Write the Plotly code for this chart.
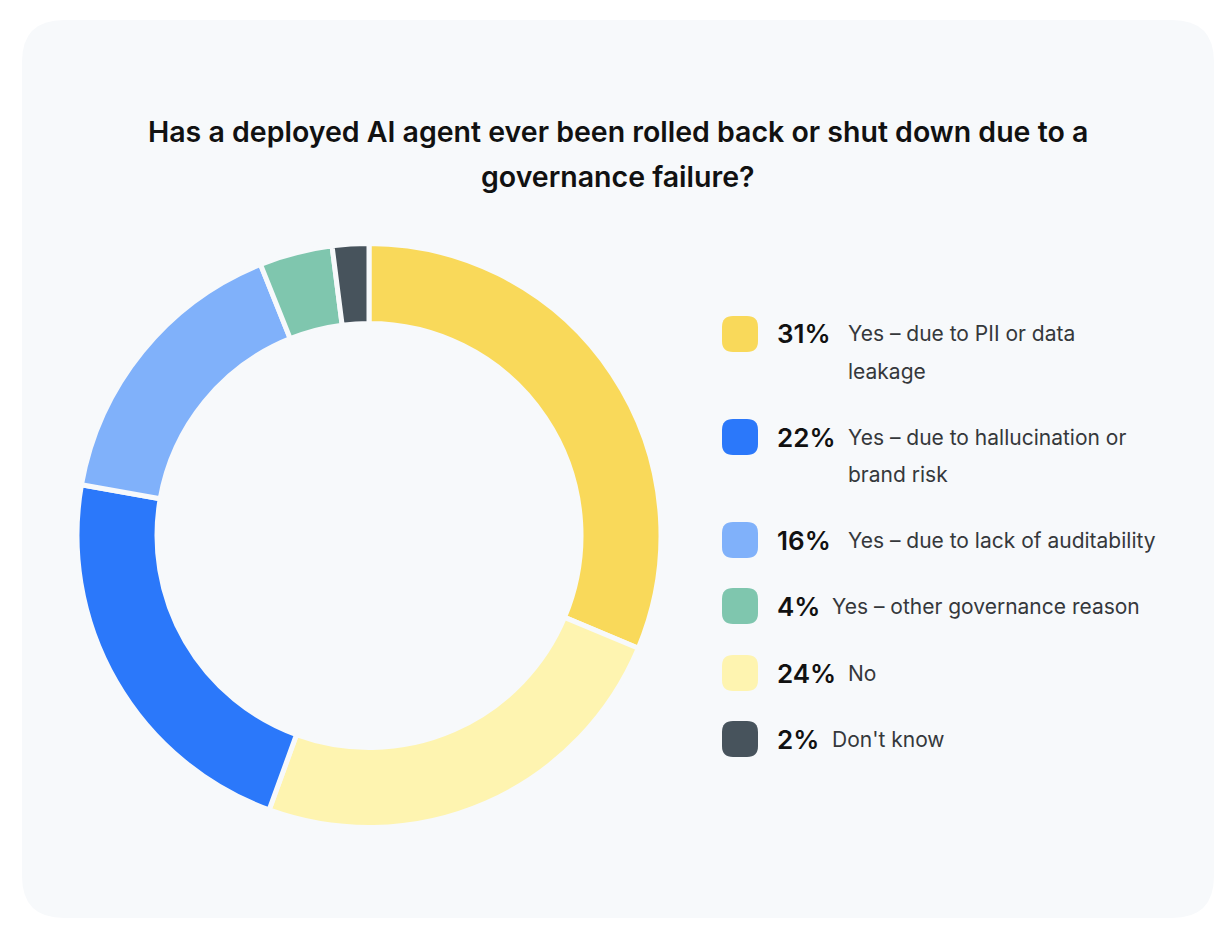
import plotly.graph_objects as go

# ---- data ----
categories = [
    "Yes – due to PII or data<br>leakage",
    "No",
    "Yes – due to hallucination or<br>brand risk",
    "Yes – due to lack of auditability",
    "Yes – other governance reason",
    "Don't know",
]
values = [31, 24, 22, 16, 4, 2]
colors = ["#F9D95A", "#FEF4B0", "#2B78FA", "#80B1FA", "#7FC6AE", "#47535C"]

# legend order (as shown on the right)
legend_order = [0, 2, 3, 4, 1, 5]

title_lines = [
    "Has a deployed AI agent ever been rolled back or shut down due to a",
    "governance failure?",
]

# page has an 8px body margin; figure is sized to fit inside it
OFF = 8
W, H = 1232 - 2 * OFF, 928 - 2 * OFF
CARD_BG = "#F7F9FB"


def px(x):
    return (x - OFF) / W


def py(y):
    return 1 - (y - OFF) / H


fig = go.Figure()

fig.add_trace(go.Pie(
    labels=[c.replace("<br>", " ") for c in categories],
    values=values,
    marker=dict(colors=colors, line=dict(color=CARD_BG, width=5)),
    hole=0.726,
    sort=False,
    direction="clockwise",
    rotation=0,
    textinfo="none",
    hovertemplate="%{label}: %{value}%<extra></extra>",
    domain=dict(x=[px(77), px(661)], y=[py(828), py(243)]),
    showlegend=False,
))

shapes = []


def rounded_rect_path(w, h, r):
    hw, hh = w / 2, h / 2
    return (f"M {-hw + r},{-hh} L {hw - r},{-hh} Q {hw},{-hh} {hw},{-hh + r} "
            f"L {hw},{hh - r} Q {hw},{hh} {hw - r},{hh} "
            f"L {-hw + r},{hh} Q {-hw},{hh} {-hw},{hh - r} "
            f"L {-hw},{-hh + r} Q {-hw},{-hh} {-hw + r},{-hh} Z")


# card background
shapes.append(dict(
    type="path", xref="paper", yref="paper",
    xsizemode="pixel", ysizemode="pixel",
    xanchor=px(618), yanchor=py(469),
    path=rounded_rect_path(1192, 898, 42),
    fillcolor=CARD_BG, line=dict(width=0), layer="below",
))

annotations = []

# title (two lines)
for k, line in enumerate(title_lines):
    annotations.append(dict(
        text=line, x=px(618), y=py(132 + 45 * k), xref="paper", yref="paper",
        xanchor="center", yanchor="middle", showarrow=False,
        font=dict(family="Inter", size=28.5, color="#111111", weight=600),
    ))

# legend
legend_y = [334, 437, 540, 606, 673, 739]
for row, idx in enumerate(legend_order):
    cy = legend_y[row]
    shapes.append(dict(
        type="path", xref="paper", yref="paper",
        xsizemode="pixel", ysizemode="pixel",
        xanchor=px(740), yanchor=py(cy),
        path=rounded_rect_path(36, 36, 11),
        fillcolor=colors[idx], line=dict(width=0),
    ))
    pct = f"{values[idx]}%"
    annotations.append(dict(
        text=pct, x=px(775), y=py(cy), xref="paper", yref="paper",
        xanchor="left", yanchor="middle", showarrow=False,
        font=dict(family="Inter", size=26, color="#111111", weight=600),
    ))
    lx = 846 if len(pct) >= 3 else 830
    for k, line in enumerate(categories[idx].split("<br>")):
        annotations.append(dict(
            text=line, x=px(lx), y=py(cy + 37 * k), xref="paper", yref="paper",
            xanchor="left", yanchor="middle", showarrow=False,
            font=dict(family="Inter", size=21, color="#35383B"),
        ))

fig.update_layout(
    width=W, height=H,
    margin=dict(l=0, r=0, t=0, b=0),
    paper_bgcolor="#FFFFFF",
    plot_bgcolor="#FFFFFF",
    shapes=shapes,
    annotations=annotations,
)

fig.write_html("out.html")
